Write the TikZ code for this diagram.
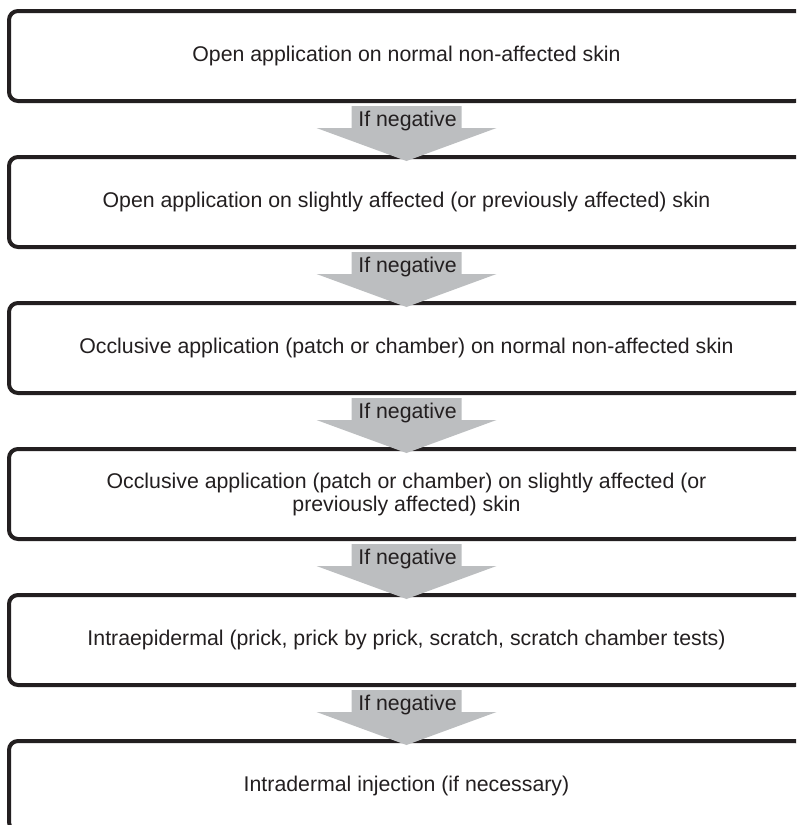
\documentclass[tikz,border=0pt]{standalone}
\usepackage{fontspec}
\setmainfont{Liberation Sans}
\usepackage{tikz}
\usetikzlibrary{calc,positioning}
\definecolor{dsdark}{RGB}{35,31,32}
\definecolor{dsgray}{RGB}{188,190,192}
\tikzset{
  dsbox/.style={draw=dsdark, line width=4pt, rounded corners=9pt, fill=white, align=center,
    text=dsdark, minimum width=795pt, minimum height=90pt, outer sep=0pt, inner sep=4pt},
  dsarr/.style={fill=dsgray, draw=none},
  dslabel/.style={text=dsdark, inner sep=1pt}
}
% grey "if negative" arrow between two steps
\newcommand{\dsneg}[2]{%
  \fill[dsarr] ($(#1.south)+(-55,-5)$) -- ++(110,0) -- ++(0,-22) -- ++(35,0)
    -- ($(#2.north)+(0,-4)$) -- ($(#1.south)+(-90,-27)$) -- ++(35,0) -- cycle;
  \node[dslabel] at ($(#1.south)+(1,-20)$) {If negative};}

\begin{document}
\begin{tikzpicture}[x=1pt, y=1pt, font=\fontsize{21.3}{23}\selectfont, node distance=56pt]
  \useasboundingbox (0,0) rectangle (796,-825);
  \clip (0,0) rectangle (796,-825);
  \node[dsbox] (s1) at (406.5,-56) {Open application on normal non-affected skin};
  \node[dsbox, below=of s1] (s2) {Open application on slightly affected (or previously affected) skin};
  \node[dsbox, below=of s2] (s3) {Occlusive application (patch or chamber) on normal non-affected skin};
  \node[dsbox, below=of s3] (s4) {Occlusive application (patch or chamber) on slightly affected (or\\previously affected) skin};
  \node[dsbox, below=of s4] (s5) {Intraepidermal (prick, prick by prick, scratch, scratch chamber tests)};
  \node[dsbox, below=of s5] (s6) {Intradermal injection (if necessary)};
  \dsneg{s1}{s2}
  \dsneg{s2}{s3}
  \dsneg{s3}{s4}
  \dsneg{s4}{s5}
  \dsneg{s5}{s6}
\end{tikzpicture}
\end{document}
